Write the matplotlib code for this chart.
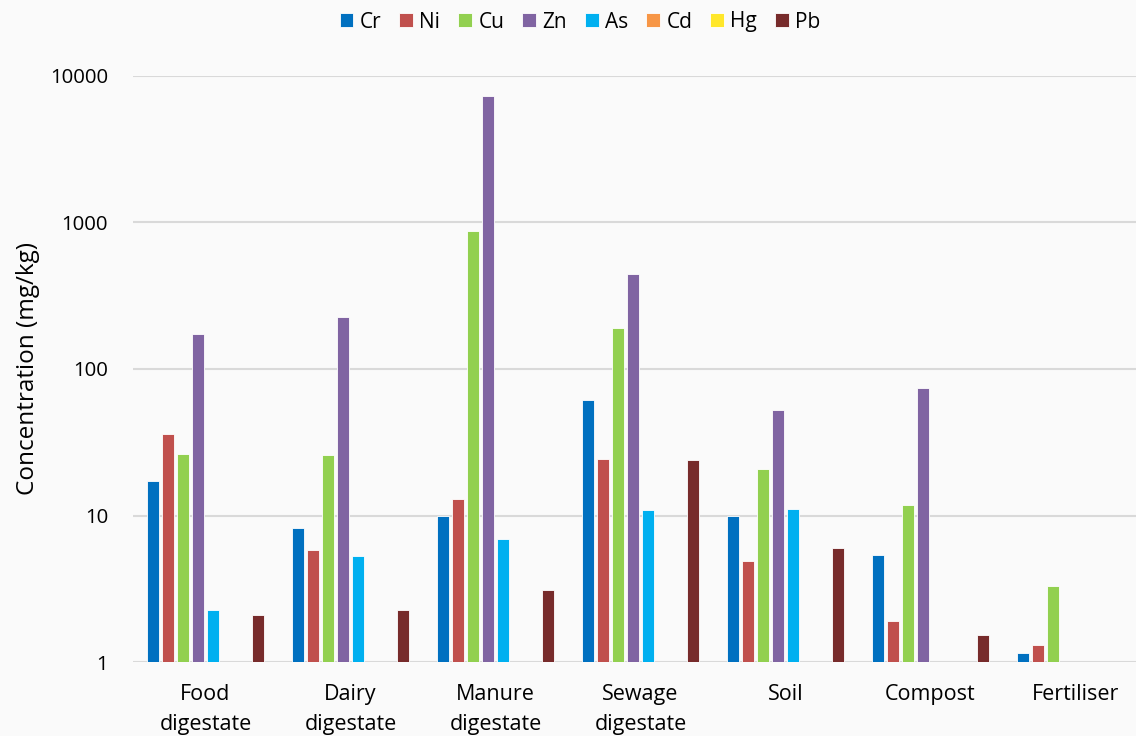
import numpy as np
import matplotlib
matplotlib.use("Agg")
import matplotlib.pyplot as plt
from matplotlib.ticker import FixedLocator, FixedFormatter, NullLocator

plt.rcParams['font.family'] = ['Open Sans', 'DejaVu Sans']

# heavy metal concentrations (mg/kg) per material, NaN = not reported
categories = ['Food\ndigestate', 'Dairy\ndigestate', 'Manure\ndigestate',
              'Sewage\ndigestate', 'Soil', 'Compost', 'Fertiliser']
metals = ['Cr', 'Ni', 'Cu', 'Zn', 'As', 'Cd', 'Hg', 'Pb']
nan = np.nan
Cr = [17.1, 8.2, 10.0, 61.0, 9.9, 5.4, 1.15]
Ni = [36.0, 5.85, 12.9, 24.3, 4.9, 1.89, 1.30]
Cu = [26.4, 25.9, 880.0, 191.0, 20.7, 11.8, 3.28]
Zn = [173.0, 228.0, 7360.0, 445.0, 52.7, 74.5, nan]
As = [2.26, 5.3, 6.93, 10.9, 11.1, nan, nan]
Cd = [nan, nan, nan, nan, nan, nan, nan]
Hg = [nan, nan, nan, nan, nan, nan, nan]
Pb = [2.08, 2.27, 3.11, 24.0, 5.97, 1.54, nan]
series = [Cr, Ni, Cu, Zn, As, Cd, Hg, Pb]
colors = ['#0070C0', '#C0504D', '#92D050', '#8064A2', '#00B0F0',
          '#F79646', '#FFE72A', '#772B2B']

fig = plt.figure(figsize=(11.36, 7.36), dpi=100)
fig.patch.set_facecolor('#fafafa')
ax = fig.add_axes([133/1136, 74/736, 1015/1136, 586/736])
ax.set_facecolor('#fafafa')

x = np.arange(len(categories))
slot = 0.1035
width = 0.083
for i, (name, vals) in enumerate(zip(metals, series)):
    off = (i - 3.5) * slot
    ax.bar(x + off, vals, width, color=colors[i], label=name,
           edgecolor='white', linewidth=0.6, zorder=3)

ax.set_yscale('log')
ax.set_ylim(1, 10000)
ax.set_xlim(-0.5, len(categories) - 0.5)
yt = [1, 10, 100, 1000, 10000]
ax.yaxis.set_major_locator(FixedLocator(yt))
ax.yaxis.set_major_formatter(FixedFormatter([str(v) for v in yt]))
ax.yaxis.set_minor_locator(NullLocator())
ax.grid(axis='y', color='#d9d9d9', linewidth=1.5, zorder=0)
ax.set_xticks(x)
ax.set_xticklabels(categories, fontsize=15.5, linespacing=1.55)
ax.tick_params(axis='both', length=0, colors='#000000')
ax.tick_params(axis='y', labelsize=14.7, pad=18)
ax.tick_params(axis='x', pad=16)
for s in ax.spines.values():
    s.set_visible(False)
ax.set_ylabel('Concentration (mg/kg)', fontsize=17.5, labelpad=7)

fig.legend(loc='center', bbox_to_anchor=(580/1136, 1 - 22/736), ncol=8,
           frameon=False, fontsize=15, handlelength=0.67, handleheight=0.67,
           handletextpad=0.29, columnspacing=0.87)

fig.savefig('out.png', dpi=100, facecolor=fig.get_facecolor())
